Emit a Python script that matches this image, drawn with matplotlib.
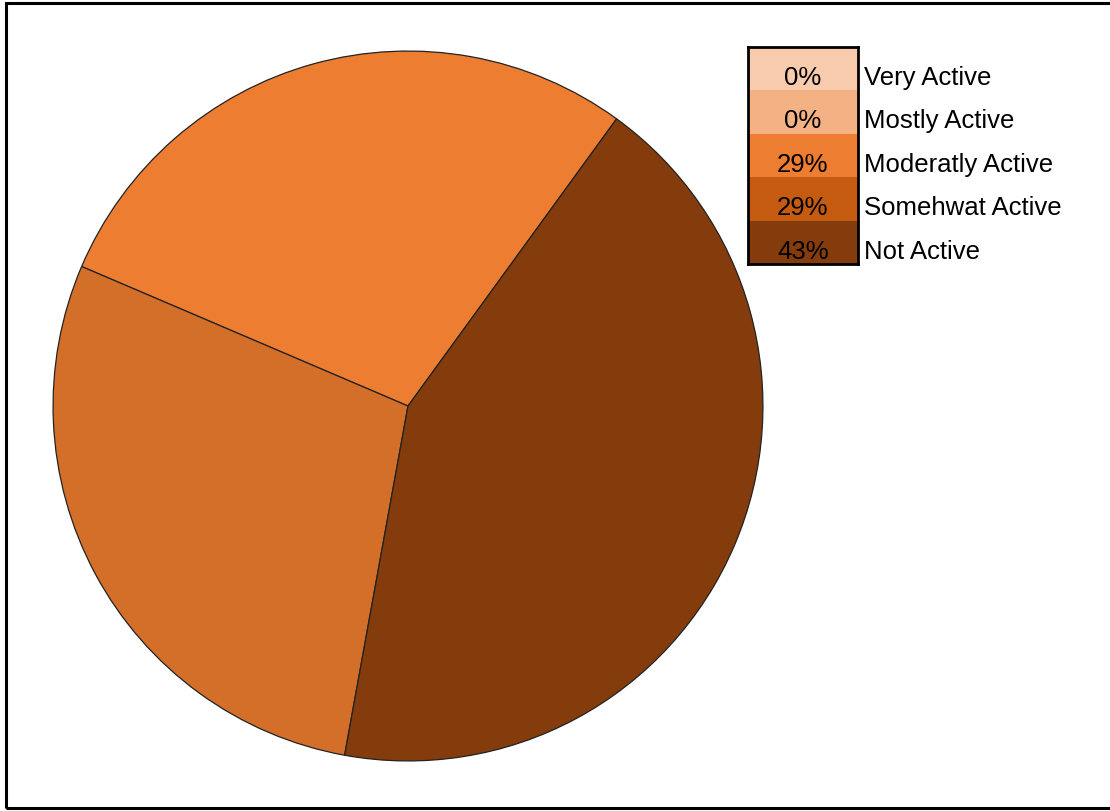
import numpy as np
import matplotlib.pyplot as plt
from matplotlib.patches import Rectangle

plt.rcParams['font.family'] = ['Liberation Sans', 'DejaVu Sans']

# activity level counts
labels = ['Very Active', 'Mostly Active', 'Moderatly Active', 'Somehwat Active', 'Not Active']
counts = [0, 0, 2, 2, 3]
pie_colors = ['#F8CBAD', '#F4B183', '#ED7D31', '#D46F2A', '#843C0C']
key_colors = ['#F8CBAD', '#F4B183', '#ED7D31', '#C55A11', '#843C0C']

W, H = 1110, 812
fig = plt.figure(figsize=(W / 100, H / 100), dpi=100)

# outer frame
fig.patches.append(Rectangle((6 / W, 3 / H), 1.2, (H - 6.5) / H, transform=fig.transFigure,
                             fill=False, edgecolor='black', linewidth=2.2))

cx, cy, r = 408, 407, 356
ax = fig.add_axes([(cx - r) / W, (H - cy - r) / H, 2 * r / W, 2 * r / H])
ax.pie(counts, colors=pie_colors, startangle=54, counterclock=True, radius=1,
       wedgeprops=dict(edgecolor='#222222', linewidth=0.9))
ax.set_xlim(-1.003, 1.003)
ax.set_ylim(-1.003, 1.003)
ax.set_aspect('equal')
ax.axis('off')

# key: coloured cells with percentages, names to the right
lx0, lx1, ly0, ly1 = 748, 858, 48, 265
lax = fig.add_axes([lx0 / W, (H - ly1) / H, (lx1 - lx0) / W, (ly1 - ly0) / H])
n = len(labels)
ypos = np.arange(n)[::-1]
lax.barh(ypos, [1] * n, height=1, left=0, color=key_colors, edgecolor='none')
lax.set_xlim(0, 1)
lax.set_ylim(-0.5, n - 0.5)
lax.set_xticks([])
lax.set_yticks([])
for s in lax.spines.values():
    s.set_linewidth(2)
    s.set_color('black')
total = sum(counts)
for y, c, lab in zip(ypos, counts, labels):
    lax.text(0.5, y - 0.19, f'{round(c / total * 100)}%', ha='center', va='center',
             fontsize=18.5, color='black')
    lax.text(1.055, y - 0.19, lab, ha='left', va='center', fontsize=18.5,
             color='black', transform=lax.get_yaxis_transform(), clip_on=False)

fig.savefig('out.png', dpi=100)
